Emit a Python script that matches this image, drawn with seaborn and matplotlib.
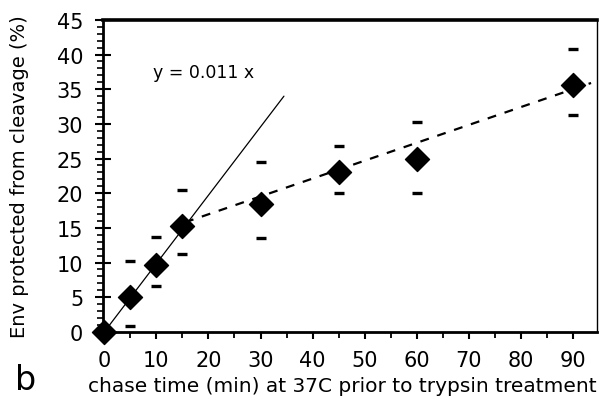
import matplotlib
matplotlib.use("Agg")
import matplotlib.pyplot as plt
import seaborn as sns
import pandas as pd
from matplotlib.ticker import MultipleLocator

# Data
chase_time = [0, 5, 10, 15, 30, 45, 60, 90]
protected = [0.0, 5.0, 9.6, 15.3, 18.4, 23.0, 24.9, 35.6]
err_upper = [None, 10.2, 13.7, 20.5, 24.5, 26.8, 30.3, 40.8]
err_lower = [None, 0.9, 6.6, 11.2, 13.5, 20.0, 20.0, 31.3]

fit_x = [0, 34.5]
fit_y = [0, 34.0]
trend_x = [15.5, 93.5]
trend_y = [15.8, 35.9]

sns.set_style("ticks")
plt.rcParams['font.family'] = ['DejaVu Sans']
plt.rcParams['text.color'] = 'black'
plt.rcParams['axes.labelcolor'] = 'black'
plt.rcParams['xtick.color'] = 'black'
plt.rcParams['ytick.color'] = 'black'

fig = plt.figure(figsize=(6.01, 4.02), dpi=100)
ax = fig.add_axes([0.171, 0.172, 0.822, 0.776])

df = pd.DataFrame({"t": chase_time, "p": protected})
caps = pd.DataFrame({
    "t": [t for t, u in zip(chase_time, err_upper) if u is not None] * 2,
    "v": [u for u in err_upper if u is not None] + [l for l in err_lower if l is not None],
})

sns.lineplot(x=fit_x, y=fit_y, ax=ax, color="black", linewidth=0.9)
sns.lineplot(x=trend_x, y=trend_y, ax=ax, color="black", linewidth=1.6,
             linestyle=(0, (4, 4)))
sns.scatterplot(data=caps, x="t", y="v", ax=ax, marker="_", s=45,
                color="black", linewidth=2.4, zorder=3)
sns.scatterplot(data=df, x="t", y="p", ax=ax, marker="D", s=150,
                color="black", edgecolor="black", zorder=4, clip_on=False)

ax.set_xlim(-0.3, 94.6)
ax.set_ylim(0, 45)
ax.xaxis.set_major_locator(MultipleLocator(10))
ax.xaxis.set_minor_locator(MultipleLocator(5))
ax.yaxis.set_major_locator(MultipleLocator(5))
ax.yaxis.set_minor_locator(MultipleLocator(1))

ax.tick_params(axis="x", which="major", direction="out", length=5, width=1.5,
               labelsize=15, pad=8)
ax.tick_params(axis="x", which="minor", direction="out", length=4, width=1.3)
ax.tick_params(axis="y", which="major", direction="inout", length=12, width=1.5,
               labelsize=15, pad=8)
ax.tick_params(axis="y", which="minor", direction="out", length=4, width=1.2)

for side, lw in [("top", 2.6), ("bottom", 2.0), ("left", 2.0), ("right", 1.0)]:
    ax.spines[side].set_visible(True)
    ax.spines[side].set_linewidth(lw)
    ax.spines[side].set_color("black")

ax.set_xlabel("chase time (min) at 37C prior to trypsin treatment", fontsize=14.5)
ax.set_ylabel("Env protected from cleavage (%)", fontsize=14)
ax.xaxis.set_label_coords(0.484, -0.14)
ax.yaxis.set_label_coords(-0.15, 0.5)

ax.text(9.4, 37.5, "y = 0.011 x", fontsize=12.5, ha="left", va="center")
fig.text(0.025, 0.012, "b", fontsize=24, ha="left", va="bottom")

fig.savefig("out.png", dpi=100, facecolor="white")
